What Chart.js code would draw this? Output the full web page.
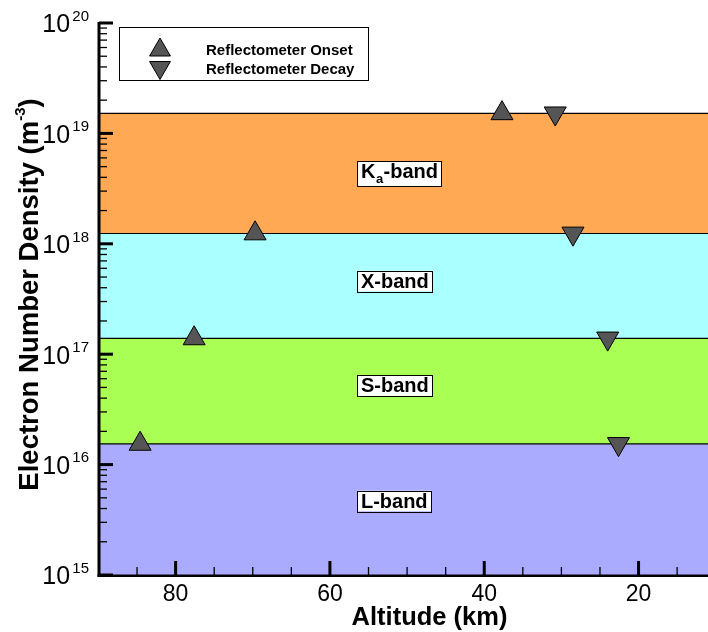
<!DOCTYPE html>
<html>
<head>
<meta charset="utf-8">
<script src="https://cdn.jsdelivr.net/npm/chart.js@4.4.1/dist/chart.umd.min.js"></script>
<style>
  html, body { margin: 0; padding: 0; background: #ffffff; }
  #wrap { width: 708px; height: 632px; }
  canvas { display: block; }
</style>
</head>
<body>
<div id="wrap"><canvas id="c" width="708" height="632"></canvas></div>
<script>
// Frequency bands and the cutoff density at the top of each band (m^-3)
const bandNames = ['L-band', 'S-band', 'X-band', 'Ka-band'];
const bandTops = [1.54e16, 1.39e17, 1.24e18, 1.52e19];
const bandColors = ['#AAAAFF', '#AAFF55', '#AAFFFF', '#FFA955'];

// Reflectometer events: altitude (km) and electron density (m^-3)
const onsetAltitude = [84.6, 77.6, 69.7, 37.7];
const onsetDensity = [1.54e16, 1.39e17, 1.24e18, 1.52e19];
const decayAltitude = [22.6, 24.0, 28.5, 30.8];
const decayDensity = [1.54e16, 1.39e17, 1.24e18, 1.52e19];

// Axis ticks
const altitudeTicks = [80, 60, 40, 20];
const altitudeMinorTicks = [85, 75, 70, 65, 55, 50, 45, 35, 30, 25, 15];
const densityExponents = [15, 16, 17, 18, 19, 20];

// Axis ranges
const altitudeRange = [11, 89.8];
const densityRange = [1e15, 1e20];

// Where the band name boxes sit (altitude of box edge, density at text baseline)
const bandLabelAltitude = 56.5;
const bandLabelDensity = [4.07e15, 4.52e16, 4.0e17, 3.92e18];

const FONT = '"Liberation Sans", Arial, Helvetica, sans-serif';

function triangle(ctx, x, y, r, down) {
  const s = down ? -1 : 1;
  ctx.beginPath();
  ctx.moveTo(x, y - s * r);
  ctx.lineTo(x + 0.8660254 * r, y + s * r / 2);
  ctx.lineTo(x - 0.8660254 * r, y + s * r / 2);
  ctx.closePath();
  ctx.fillStyle = '#555555';
  ctx.fill();
  ctx.strokeStyle = '#000000';
  ctx.lineWidth = 1;
  ctx.stroke();
}

const overlay = {
  id: 'overlay',
  afterDatasetsDraw(chart) {
    const ctx = chart.ctx;
    const xs = chart.scales.x;
    const ys = chart.scales.y;
    const area = chart.chartArea;
    ctx.save();

    // Band name boxes
    const labelFont = 'bold 20px ' + FONT;
    const subFont = 'bold 13px ' + FONT;
    bandNames.forEach((name, i) => {
      const bx = xs.getPixelForValue(bandLabelAltitude);
      const base = ys.getPixelForValue(bandLabelDensity[i]);
      let parts;
      if (name.startsWith('Ka')) {
        parts = [
          { t: 'K', f: labelFont, dy: 0, gap: 0.5 },
          { t: 'a', f: subFont, dy: 4.5, gap: 0.5 },
          { t: '-band', f: labelFont, dy: 0, gap: 0 }
        ];
      } else {
        parts = [{ t: name, f: labelFont, dy: 0, gap: 0 }];
      }
      let w = 0;
      parts.forEach(p => { ctx.font = p.f; p.w = ctx.measureText(p.t).width + p.gap; w += p.w; });
      const padX = 3.5;
      const top = base - 17;
      const bottom = base + (parts.length > 1 ? 7.7 : 3.6);
      ctx.fillStyle = '#ffffff';
      ctx.fillRect(bx, top, w + padX * 2 + 1, bottom - top);
      ctx.strokeStyle = '#000000';
      ctx.lineWidth = 1;
      ctx.strokeRect(Math.round(bx) + 0.5, Math.round(top) + 0.5, Math.round(w + padX * 2), Math.round(bottom - top));
      let tx = bx + padX + 0.5;
      ctx.fillStyle = '#000000';
      ctx.textAlign = 'left';
      ctx.textBaseline = 'alphabetic';
      parts.forEach(p => {
        ctx.font = p.f;
        ctx.fillText(p.t, tx, base + p.dy);
        tx += p.w;
      });
    });

    // Legend
    ctx.fillStyle = '#ffffff';
    ctx.fillRect(119, 27, 249, 53);
    ctx.strokeStyle = '#000000';
    ctx.lineWidth = 1;
    ctx.strokeRect(119.5, 27.5, 249, 53);
    triangle(ctx, 160, 50, 12, false);
    triangle(ctx, 160, 67.5, 12, true);
    ctx.fillStyle = '#000000';
    ctx.font = 'bold 15px ' + FONT;
    ctx.textAlign = 'left';
    ctx.fillText('Reflectometer Onset', 206, 54.5);
    ctx.fillText('Reflectometer Decay', 206, 73.5);

    // Axis lines
    ctx.strokeStyle = '#000000';
    ctx.lineWidth = 3;
    ctx.beginPath();
    ctx.moveTo(99, area.top - 1);
    ctx.lineTo(99, area.bottom + 2);
    ctx.stroke();
    ctx.lineWidth = 2.6;
    ctx.beginPath();
    ctx.moveTo(97.5, area.bottom + 0.8);
    ctx.lineTo(area.right, area.bottom + 0.8);
    ctx.stroke();

    // Density ticks (log decades plus minor 2..9)
    densityExponents.forEach((e, k) => {
      const py = ys.getPixelForValue(Math.pow(10, e));
      ctx.lineWidth = 3;
      ctx.beginPath();
      ctx.moveTo(99, py);
      ctx.lineTo(113, py);
      ctx.stroke();
      if (k < densityExponents.length - 1) {
        ctx.lineWidth = 1.3;
        for (let m = 2; m <= 9; m++) {
          const my = ys.getPixelForValue(m * Math.pow(10, e));
          ctx.beginPath();
          ctx.moveTo(99, my);
          ctx.lineTo(107, my);
          ctx.stroke();
        }
      }
      // label 10^e
      ctx.fillStyle = '#000000';
      ctx.textAlign = 'left';
      ctx.font = '25px ' + FONT;
      const lx = 42.3;
      ctx.fillText('10', lx, py + 9.3);
      const w10 = ctx.measureText('10').width;
      ctx.font = '15px ' + FONT;
      ctx.fillText(String(e), lx + w10 + 2.2, py - 2.3);
    });

    // Altitude ticks
    altitudeTicks.forEach(v => {
      const px = xs.getPixelForValue(v);
      ctx.lineWidth = 3;
      ctx.beginPath();
      ctx.moveTo(px, area.bottom + 1);
      ctx.lineTo(px, area.bottom - 14);
      ctx.stroke();
      ctx.fillStyle = '#000000';
      ctx.textAlign = 'center';
      ctx.font = '23px ' + FONT;
      ctx.fillText(String(v), px, 600.5);
    });
    ctx.lineWidth = 1.3;
    altitudeMinorTicks.forEach(v => {
      const px = xs.getPixelForValue(v);
      ctx.beginPath();
      ctx.moveTo(px, area.bottom + 1);
      ctx.lineTo(px, area.bottom - 8);
      ctx.stroke();
    });

    // Axis titles
    ctx.fillStyle = '#000000';
    ctx.textAlign = 'center';
    ctx.font = 'bold 25.5px ' + FONT;
    ctx.fillText('Altitude (km)', 429.5, 624.5);

    ctx.save();
    ctx.translate(37.5, 294.5);
    ctx.rotate(-Math.PI / 2);
    ctx.textAlign = 'left';
    const mainFont = 'bold 27.5px ' + FONT;
    const supFont = 'bold 15px ' + FONT;
    const t1 = 'Electron Number Density (m';
    const t2 = '-3';
    const t3 = ')';
    ctx.font = mainFont;
    const w1 = ctx.measureText(t1).width;
    const w3 = ctx.measureText(t3).width;
    ctx.font = supFont;
    const w2 = ctx.measureText(t2).width;
    let sx = -(w1 + w2 + w3) / 2;
    ctx.font = mainFont;
    ctx.fillText(t1, sx, 0);
    sx += w1;
    ctx.font = supFont;
    ctx.fillText(t2, sx, -12.5);
    sx += w2;
    ctx.font = mainFont;
    ctx.fillText(t3, sx, 0);
    ctx.restore();

    ctx.restore();
  }
};

const bandDatasets = bandTops.map((top, i) => ({
  type: 'line',
  label: bandNames[i],
  data: [{ x: altitudeRange[1], y: top }, { x: altitudeRange[0], y: top }],
  borderColor: '#000000',
  borderWidth: 1.2,
  pointRadius: 0,
  tension: 0,
  backgroundColor: bandColors[i],
  fill: i === 0 ? 'start' : '-1',
  order: 2
}));

new Chart(document.getElementById('c'), {
  type: 'scatter',
  data: {
    datasets: [
      {
        label: 'Reflectometer Onset',
        data: onsetAltitude.map((a, i) => ({ x: a, y: onsetDensity[i] })),
        pointStyle: 'triangle',
        pointRadius: 12.7,
        pointBackgroundColor: '#555555',
        pointBorderColor: '#000000',
        pointBorderWidth: 1,
        showLine: false,
        order: 0
      },
      {
        label: 'Reflectometer Decay',
        data: decayAltitude.map((a, i) => ({ x: a, y: decayDensity[i] })),
        pointStyle: 'triangle',
        rotation: 180,
        pointRadius: 12.7,
        pointBackgroundColor: '#555555',
        pointBorderColor: '#000000',
        pointBorderWidth: 1,
        showLine: false,
        order: 0
      },
      ...bandDatasets
    ]
  },
  options: {
    responsive: false,
    animation: false,
    devicePixelRatio: 1,
    events: [],
    layout: { autoPadding: false, padding: { left: 100, top: 23, right: 0, bottom: 57 } },
    scales: {
      x: {
        type: 'linear',
        reverse: true,
        min: altitudeRange[0],
        max: altitudeRange[1],
        display: false
      },
      y: {
        type: 'logarithmic',
        min: densityRange[0],
        max: densityRange[1],
        display: false
      }
    },
    plugins: {
      legend: { display: false },
      tooltip: { enabled: false }
    }
  },
  plugins: [overlay]
});
</script>
</body>
</html>
